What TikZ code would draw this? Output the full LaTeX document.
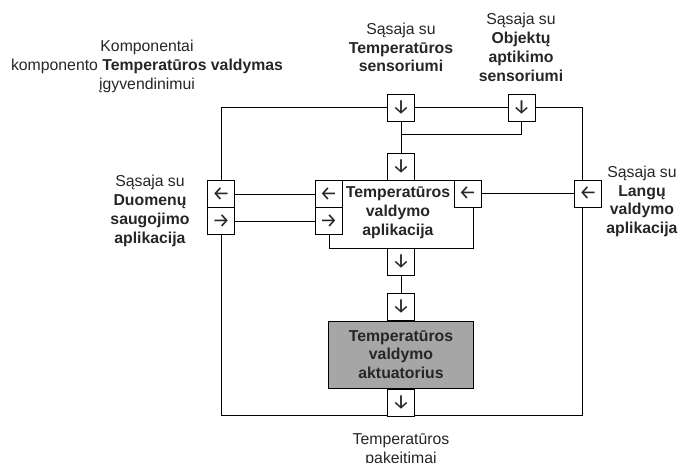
\documentclass[tikz,border=0pt]{standalone}
\usepackage{fontspec}
\setmainfont{Liberation Sans}
\newfontfamily\arrowfam{Fira Sans}
\usetikzlibrary{positioning}
\definecolor{actfill}{RGB}{166,166,166}
\definecolor{txt}{RGB}{38,38,38}
\newcommand{\dgfont}{\fontsize{15.8}{18.8}\selectfont}
\newcommand{\arrfont}{\arrowfam\fontsize{20}{20}\selectfont}

\begin{document}
\begin{tikzpicture}[x=1pt,y=-1pt,line width=1pt,every node/.style={font=\dgfont,text=txt},
  port/.style={draw,fill=white,minimum width=27pt,minimum height=27pt,inner sep=0pt,font=\arrfont},
  box/.style={draw,align=center,inner sep=0pt},
  lbl/.style={align=center,inner sep=0pt}]
\useasboundingbox (0,0) rectangle (678,463);
% component frame
\node[draw,minimum width=361pt,minimum height=308pt] (frame) at (401.5,261) {};
\node[box,minimum width=144pt,minimum height=68pt] (app) at (401,214) {};
\node[lbl] (apptxt) at (398,213) {\textbf{Temperatūros}\\\textbf{valdymo}\\\textbf{aplikacija}};
\node[box,fill=actfill,minimum width=145pt,minimum height=67pt] (act) at (401,354.5) {\textbf{Temperatūros}\\\textbf{valdymo}\\\textbf{aktuatorius}};
% ports
\node[port] (tp1) at (401,107.5) {↓};
\node[port] (tp2) at (521.5,107.5) {↓};
\node[port] (ip) at (401,166.5) {↓};
\node[port] (lpa) at (221,194) {←};
\node[port] (lpb) at (221,221) {→};
\node[port] (apa) at (328.5,194) {←};
\node[port] (apb) at (328.5,221) {→};
\node[port] (apr) at (467.5,193.5) {←};
\node[port] (rp) at (588,193.5) {←};
\node[port] (op) at (401,261.5) {↓};
\node[port,above=0pt of act.north] (ain) {↓};
\node[port,below=0pt of act.south] (aout) {↓};
\coordinate (j) at (401,134);
% connectors
\draw (tp1)--(ip); \draw (tp2.south)|-(j);
\draw (lpa)--(apa); \draw (lpb)--(apb); \draw (apr)--(rp);
\draw (op)--(ain);
% labels
\node[lbl] (comp) at (147,66.5) {Komponentai\\komponento \textbf{Temperatūros valdymas}\\įgyvendinimui};
\node[lbl] (sens) at (401,47.5) {Sąsaja su\\\textbf{Temperatūros}\\\textbf{sensoriumi}};
\node[lbl] (obj) at (521,47.5) {Sąsaja su\\\textbf{Objektų}\\\textbf{aptikimo}\\\textbf{sensoriumi}};
\node[lbl] (duom) at (150,211) {Sąsaja su\\\textbf{Duomenų}\\\textbf{saugojimo}\\\textbf{aplikacija}};
\node[lbl] (lang) at (642,201.5) {Sąsaja su\\\textbf{Langų}\\\textbf{valdymo}\\\textbf{aplikacija}};
\node[lbl] (chg) at (401,450) {Temperatūros\\pakeitimai};
\end{tikzpicture}
\end{document}
